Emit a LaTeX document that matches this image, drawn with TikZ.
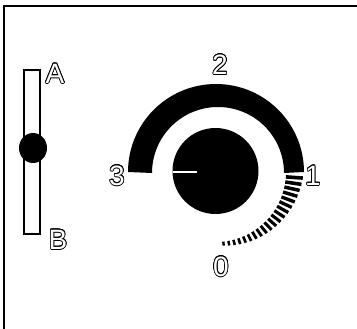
\documentclass[tikz,border=0pt]{standalone}
\usepackage{fontspec}
\setmainfont{Liberation Sans}
\usepackage[copies]{contour}
\contourlength{0.75pt}
\usetikzlibrary{calc}
\tikzset{
  lbl/.style={inner sep=0pt},
  frame/.style={line width=1.4pt, black},
  tick/.style={line width=#1, black, line cap=butt}
}
\newcommand{\hollow}[1]{\fontsize{28}{28}\selectfont\contour{black}{\color{white}#1}}
\begin{document}
\begin{tikzpicture}[x=1pt,y=1pt]
\useasboundingbox (0,0) rectangle (357,-329);
\fill[white] (0,0) rectangle (357,-329);
% frame (top and left visible)
\draw[frame] (4,-340) -- (4,-6) -- (370,-6);
% slider
\draw[line width=1.1pt] (24,-70) rectangle (40,-234);
\fill[black] (33,-148) ellipse [x radius=14, y radius=15];
\node[lbl] (A) at (55,-74) {\hollow{A}};
\node[lbl] (B) at (58,-240) {\hollow{B}};
% dial
\coordinate (c) at (216,-172);
\coordinate (ci) at (218,-173);
\fill[black] ($(c)+(0:88)$) arc[start angle=0, end angle=180, radius=88]
  -- ($(ci)+(180:66)$) arc[start angle=180, end angle=0, radius=66] -- cycle;
\fill[black] (215.5,-171) circle[radius=43];
\draw[white, line width=2.4pt] (173,-172) -- (197,-172);
\foreach \i in {0,...,19} {
  \pgfmathsetmacro\a{-4-\i*80/19}
  \pgfmathsetmacro\L{17-\i*13/19}
  \pgfmathsetmacro\w{3.6-\i*1.2/19}
  \draw[tick=\w pt] ($(c)+(\a:70)$) -- ($(c)+(\a:70+\L)$);
}
\node[lbl] (n2) at (220,-65) {\hollow{2}};
\node[lbl] (n3) at (117,-176) {\hollow{3}};
\node[lbl] (n1) at (313,-176) {\hollow{1}};
\node[lbl] (n0) at (221,-267) {\hollow{0}};
\end{tikzpicture}
\end{document}
